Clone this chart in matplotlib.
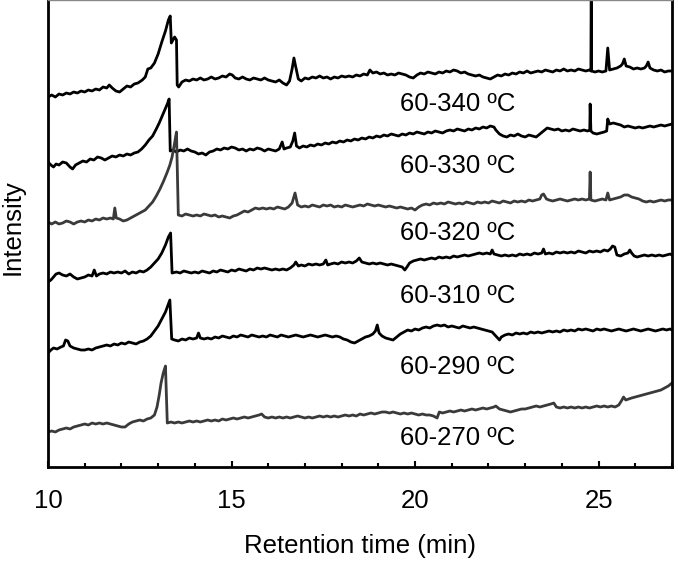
import matplotlib
matplotlib.use("Agg")
import matplotlib.pyplot as plt
from matplotlib.ticker import MultipleLocator

plt.rcParams['font.family'] = ['Liberation Sans', 'DejaVu Sans']

# Chromatogramme: (Retentionszeit in min, Intensitaet in willkuerlichen Einheiten)
# Spuren sind bereits vertikal gestapelt
trace_340 = [
    (10.0, 370), (10.1, 372), (10.2, 370), (10.3, 373), (10.4, 372), (10.5, 374), (10.6, 373),
    (10.7, 375), (10.8, 374), (10.9, 376), (11.0, 375), (11.1, 377), (11.2, 376), (11.3, 378),
    (11.4, 377), (11.5, 380), (11.6, 379), (11.67, 382), (11.75, 379), (11.85, 376), (11.95, 375),
    (12.05, 378), (12.15, 381), (12.25, 380), (12.35, 383), (12.45, 384), (12.57, 387),
    (12.65, 390), (12.72, 398), (12.8, 399), (12.9, 404), (13.0, 413), (13.1, 425), (13.2, 436),
    (13.28, 447), (13.33, 451), (13.36, 424), (13.42, 428), (13.45, 430), (13.5, 427),
    (13.52, 382), (13.56, 380), (13.65, 385), (13.75, 387), (13.85, 386), (13.95, 388),
    (14.05, 387), (14.15, 389), (14.25, 387), (14.35, 388), (14.45, 390), (14.55, 388),
    (14.65, 389), (14.75, 391), (14.85, 390), (14.95, 393), (15.02, 392), (15.1, 389),
    (15.2, 388), (15.3, 390), (15.4, 388), (15.5, 387), (15.6, 389), (15.7, 388), (15.8, 387),
    (15.9, 389), (16.0, 387), (16.1, 386), (16.2, 385), (16.3, 387), (16.4, 384), (16.5, 382),
    (16.58, 386), (16.65, 398), (16.7, 409), (16.75, 400), (16.82, 388), (16.9, 386),
    (17.0, 389), (17.1, 388), (17.2, 390), (17.3, 389), (17.4, 391), (17.5, 389), (17.6, 390),
    (17.7, 388), (17.8, 390), (17.9, 389), (18.0, 391), (18.1, 390), (18.2, 391), (18.3, 390),
    (18.4, 392), (18.5, 391), (18.6, 393), (18.7, 392), (18.77, 397), (18.85, 394),
    (18.95, 395), (19.05, 393), (19.15, 394), (19.25, 392), (19.35, 393), (19.45, 392),
    (19.55, 394), (19.65, 393), (19.75, 392), (19.85, 390), (19.95, 389), (20.05, 392),
    (20.15, 394), (20.25, 393), (20.35, 395), (20.45, 394), (20.55, 393), (20.65, 395),
    (20.75, 394), (20.85, 396), (20.95, 395), (21.05, 397), (21.15, 396), (21.25, 394),
    (21.35, 395), (21.45, 393), (21.55, 392), (21.65, 391), (21.75, 392), (21.85, 390),
    (21.95, 389), (22.05, 388), (22.15, 390), (22.25, 392), (22.35, 391), (22.45, 393),
    (22.55, 392), (22.65, 394), (22.75, 393), (22.85, 395), (22.95, 394), (23.05, 396),
    (23.15, 394), (23.25, 395), (23.35, 396), (23.45, 395), (23.55, 397), (23.65, 396),
    (23.75, 395), (23.85, 397), (23.95, 396), (24.05, 398), (24.15, 396), (24.25, 397),
    (24.35, 396), (24.45, 398), (24.55, 397), (24.65, 396), (24.75, 397), (24.79, 396),
    (24.8, 490), (24.81, 396), (24.9, 395), (25.0, 396), (25.1, 395), (25.2, 396), (25.25, 419),
    (25.3, 397), (25.4, 398), (25.5, 399), (25.6, 401), (25.65, 403), (25.7, 408), (25.75, 401),
    (25.85, 400), (25.95, 398), (26.05, 399), (26.15, 398), (26.25, 399), (26.3, 401),
    (26.35, 405), (26.4, 399), (26.5, 397), (26.6, 396), (26.7, 397), (26.8, 395), (26.9, 396),
    (27.0, 396),
]

trace_330 = [
    (10.0, 305), (10.08, 302), (10.15, 300), (10.22, 303), (10.3, 302), (10.4, 305), (10.5, 304),
    (10.6, 300), (10.67, 298), (10.75, 302), (10.85, 304), (10.95, 306), (11.05, 305),
    (11.15, 308), (11.25, 307), (11.35, 310), (11.45, 309), (11.55, 307), (11.65, 309),
    (11.75, 311), (11.85, 310), (11.95, 312), (12.05, 311), (12.15, 313), (12.25, 312),
    (12.35, 314), (12.45, 315), (12.55, 318), (12.65, 322), (12.75, 327), (12.85, 331),
    (12.95, 338), (13.03, 344), (13.1, 350), (13.18, 357), (13.25, 363), (13.3, 368),
    (13.33, 316), (13.4, 317), (13.5, 315), (13.6, 317), (13.7, 316), (13.8, 318), (13.9, 316),
    (14.0, 315), (14.1, 313), (14.2, 314), (14.3, 312), (14.4, 315), (14.5, 316), (14.6, 318),
    (14.7, 317), (14.8, 319), (14.9, 318), (15.0, 320), (15.1, 319), (15.2, 317), (15.3, 318),
    (15.4, 316), (15.5, 318), (15.6, 317), (15.7, 319), (15.8, 318), (15.9, 316), (16.0, 318),
    (16.1, 317), (16.2, 316), (16.3, 318), (16.38, 325), (16.43, 318), (16.5, 319), (16.6, 320),
    (16.67, 326), (16.72, 334), (16.77, 321), (16.85, 319), (16.95, 321), (17.05, 320),
    (17.15, 322), (17.25, 321), (17.35, 323), (17.45, 322), (17.55, 324), (17.65, 323),
    (17.75, 325), (17.85, 324), (17.95, 326), (18.05, 325), (18.15, 327), (18.25, 326),
    (18.35, 328), (18.45, 327), (18.55, 329), (18.65, 328), (18.75, 330), (18.85, 329),
    (18.95, 331), (19.05, 330), (19.15, 332), (19.25, 331), (19.35, 333), (19.45, 332),
    (19.55, 331), (19.65, 333), (19.75, 332), (19.85, 334), (19.95, 333), (20.05, 335),
    (20.15, 334), (20.25, 333), (20.35, 335), (20.45, 334), (20.55, 336), (20.65, 335),
    (20.75, 334), (20.85, 336), (20.95, 337), (21.05, 336), (21.15, 338), (21.25, 337),
    (21.35, 336), (21.45, 338), (21.55, 337), (21.65, 339), (21.75, 338), (21.85, 340),
    (21.95, 339), (22.05, 341), (22.15, 340), (22.2, 337), (22.3, 333), (22.4, 331), (22.5, 330),
    (22.6, 332), (22.7, 331), (22.8, 333), (22.9, 331), (23.0, 330), (23.1, 332), (23.2, 331),
    (23.3, 330), (23.4, 333), (23.5, 336), (23.6, 339), (23.7, 338), (23.8, 337), (23.9, 338),
    (24.0, 336), (24.1, 337), (24.2, 336), (24.3, 338), (24.4, 337), (24.5, 336), (24.6, 337),
    (24.7, 336), (24.76, 337), (24.77, 363), (24.79, 336), (24.85, 334), (24.95, 333),
    (25.05, 334), (25.15, 335), (25.22, 336), (25.25, 348), (25.3, 343), (25.4, 344),
    (25.5, 343), (25.6, 342), (25.7, 340), (25.8, 341), (25.9, 340), (26.0, 339), (26.1, 340),
    (26.2, 339), (26.3, 340), (26.4, 341), (26.5, 340), (26.6, 341), (26.7, 342), (26.8, 341),
    (26.9, 342), (27.0, 343),
]

trace_320 = [
    (10.0, 245), (10.1, 243), (10.2, 245), (10.3, 243), (10.4, 244), (10.5, 246), (10.6, 245),
    (10.7, 243), (10.8, 245), (10.9, 246), (11.0, 245), (11.1, 247), (11.2, 246), (11.3, 248),
    (11.4, 247), (11.5, 249), (11.6, 248), (11.7, 249), (11.78, 248), (11.82, 259), (11.86, 249),
    (11.95, 248), (12.05, 246), (12.15, 247), (12.25, 249), (12.35, 251), (12.45, 253),
    (12.55, 255), (12.65, 257), (12.75, 261), (12.85, 265), (12.95, 271), (13.05, 278),
    (13.15, 286), (13.25, 295), (13.32, 302), (13.38, 310), (13.44, 322), (13.5, 335),
    (13.55, 252), (13.65, 251), (13.75, 253), (13.85, 252), (13.95, 251), (14.05, 252),
    (14.15, 251), (14.25, 253), (14.35, 252), (14.45, 251), (14.55, 252), (14.65, 250),
    (14.75, 251), (14.85, 250), (14.95, 249), (15.05, 251), (15.15, 252), (15.25, 254),
    (15.35, 256), (15.45, 255), (15.55, 257), (15.65, 259), (15.75, 258), (15.85, 259),
    (15.95, 258), (16.05, 259), (16.15, 258), (16.25, 260), (16.35, 259), (16.45, 258),
    (16.55, 260), (16.65, 264), (16.73, 274), (16.8, 262), (16.9, 260), (17.0, 261), (17.1, 260),
    (17.2, 262), (17.3, 261), (17.4, 260), (17.5, 262), (17.6, 261), (17.7, 262), (17.8, 260),
    (17.9, 261), (18.0, 260), (18.1, 262), (18.2, 261), (18.3, 260), (18.4, 261), (18.5, 262),
    (18.6, 261), (18.7, 263), (18.8, 262), (18.9, 261), (19.0, 262), (19.1, 261), (19.2, 260),
    (19.3, 261), (19.4, 260), (19.5, 259), (19.6, 260), (19.7, 259), (19.8, 258), (19.9, 259),
    (20.0, 257), (20.1, 260), (20.2, 262), (20.3, 263), (20.4, 262), (20.5, 264), (20.6, 263),
    (20.7, 264), (20.8, 263), (20.9, 265), (21.0, 264), (21.1, 263), (21.2, 264), (21.3, 263),
    (21.4, 265), (21.5, 264), (21.6, 263), (21.7, 265), (21.8, 264), (21.9, 265), (22.0, 264),
    (22.1, 266), (22.2, 265), (22.3, 264), (22.4, 266), (22.5, 265), (22.6, 264), (22.7, 266),
    (22.8, 265), (22.9, 266), (23.0, 265), (23.1, 267), (23.2, 266), (23.3, 267), (23.4, 268),
    (23.45, 272), (23.5, 273), (23.58, 268), (23.65, 267), (23.75, 266), (23.85, 267),
    (23.95, 268), (24.05, 267), (24.15, 266), (24.25, 267), (24.35, 268), (24.45, 267),
    (24.55, 268), (24.65, 267), (24.75, 268), (24.77, 295), (24.79, 267), (24.9, 266),
    (25.0, 267), (25.1, 268), (25.2, 267), (25.25, 274), (25.3, 267), (25.4, 268), (25.5, 269),
    (25.6, 270), (25.7, 272), (25.8, 272), (25.9, 270), (26.0, 269), (26.1, 268), (26.2, 266),
    (26.3, 265), (26.4, 266), (26.5, 265), (26.6, 266), (26.7, 267), (26.8, 266), (26.9, 267),
    (27.0, 267),
]

trace_310 = [
    (10.0, 185), (10.08, 187), (10.15, 190), (10.22, 193), (10.3, 194), (10.4, 192), (10.5, 191),
    (10.6, 193), (10.7, 190), (10.8, 188), (10.9, 189), (11.0, 190), (11.1, 192), (11.2, 191),
    (11.26, 197), (11.32, 191), (11.4, 193), (11.5, 194), (11.6, 193), (11.7, 195), (11.8, 194),
    (11.9, 195), (12.0, 194), (12.1, 196), (12.2, 193), (12.3, 195), (12.4, 194), (12.5, 196),
    (12.6, 195), (12.7, 197), (12.8, 200), (12.9, 204), (13.0, 208), (13.1, 214), (13.2, 222),
    (13.28, 230), (13.34, 234), (13.38, 194), (13.5, 195), (13.6, 194), (13.7, 196), (13.8, 195),
    (13.9, 194), (14.0, 195), (14.1, 194), (14.2, 196), (14.3, 195), (14.4, 194), (14.5, 196),
    (14.6, 195), (14.7, 197), (14.8, 196), (14.9, 195), (15.0, 197), (15.1, 196), (15.2, 198),
    (15.3, 197), (15.4, 196), (15.5, 198), (15.6, 197), (15.7, 199), (15.8, 198), (15.9, 199),
    (16.0, 198), (16.1, 197), (16.2, 198), (16.3, 197), (16.4, 198), (16.5, 197), (16.6, 199),
    (16.7, 202), (16.75, 205), (16.82, 201), (16.9, 202), (17.0, 201), (17.1, 203), (17.2, 202),
    (17.3, 203), (17.4, 202), (17.5, 203), (17.57, 207), (17.62, 202), (17.7, 203), (17.8, 204),
    (17.9, 203), (18.0, 205), (18.1, 204), (18.2, 205), (18.3, 204), (18.4, 206), (18.48, 209),
    (18.55, 205), (18.65, 204), (18.75, 203), (18.85, 204), (18.95, 203), (19.05, 204),
    (19.15, 203), (19.25, 202), (19.35, 203), (19.45, 202), (19.55, 201), (19.65, 200),
    (19.72, 197), (19.78, 200), (19.85, 204), (19.95, 206), (20.05, 207), (20.15, 208),
    (20.25, 207), (20.35, 208), (20.45, 209), (20.55, 208), (20.65, 210), (20.75, 209),
    (20.85, 210), (20.95, 209), (21.05, 211), (21.15, 210), (21.25, 211), (21.35, 212),
    (21.45, 211), (21.55, 212), (21.65, 213), (21.75, 214), (21.85, 213), (21.95, 214),
    (22.05, 213), (22.1, 217), (22.15, 213), (22.25, 212), (22.35, 211), (22.45, 212),
    (22.55, 211), (22.65, 212), (22.75, 211), (22.85, 213), (22.95, 212), (23.05, 213),
    (23.15, 212), (23.25, 214), (23.35, 213), (23.45, 214), (23.5, 218), (23.55, 213),
    (23.65, 214), (23.75, 213), (23.85, 215), (23.95, 214), (24.05, 215), (24.15, 214),
    (24.25, 215), (24.35, 214), (24.45, 216), (24.55, 215), (24.65, 214), (24.75, 216),
    (24.85, 215), (24.95, 216), (25.05, 215), (25.15, 217), (25.25, 216), (25.32, 218),
    (25.38, 221), (25.44, 220), (25.5, 212), (25.6, 211), (25.7, 213), (25.8, 214), (25.85, 217),
    (25.9, 214), (25.97, 211), (26.05, 210), (26.15, 211), (26.25, 212), (26.35, 211),
    (26.45, 212), (26.55, 211), (26.65, 212), (26.75, 211), (26.85, 212), (26.95, 213),
    (27.0, 212),
]

trace_290 = [
    (10.0, 114), (10.08, 117), (10.15, 119), (10.25, 118), (10.35, 120), (10.42, 121),
    (10.48, 127), (10.54, 126), (10.6, 121), (10.7, 119), (10.8, 118), (10.9, 117), (11.0, 117),
    (11.1, 118), (11.2, 117), (11.3, 119), (11.4, 120), (11.5, 121), (11.6, 122), (11.7, 121),
    (11.8, 123), (11.9, 122), (12.0, 124), (12.1, 123), (12.2, 125), (12.3, 124), (12.4, 123),
    (12.5, 125), (12.6, 126), (12.7, 128), (12.8, 131), (12.9, 136), (13.0, 141), (13.1, 148),
    (13.2, 155), (13.27, 162), (13.32, 167), (13.37, 128), (13.45, 127), (13.55, 126),
    (13.65, 128), (13.75, 127), (13.85, 129), (13.95, 128), (14.05, 129), (14.1, 134),
    (14.15, 129), (14.25, 128), (14.35, 129), (14.45, 128), (14.55, 130), (14.65, 129),
    (14.75, 131), (14.85, 130), (14.95, 129), (15.05, 131), (15.15, 130), (15.25, 132),
    (15.35, 131), (15.45, 130), (15.55, 132), (15.65, 131), (15.75, 130), (15.85, 131),
    (15.95, 130), (16.05, 132), (16.15, 131), (16.25, 130), (16.35, 132), (16.45, 131),
    (16.55, 130), (16.65, 131), (16.75, 132), (16.85, 131), (16.95, 130), (17.05, 131),
    (17.15, 132), (17.25, 131), (17.35, 130), (17.45, 131), (17.55, 132), (17.65, 131),
    (17.75, 130), (17.85, 131), (17.95, 130), (18.05, 128), (18.15, 127), (18.25, 125),
    (18.35, 124), (18.45, 126), (18.55, 128), (18.65, 130), (18.75, 131), (18.85, 133),
    (18.92, 136), (18.97, 142), (19.02, 134), (19.1, 131), (19.2, 129), (19.3, 128), (19.4, 127),
    (19.5, 130), (19.6, 133), (19.7, 135), (19.8, 137), (19.9, 136), (20.0, 138), (20.1, 137),
    (20.2, 139), (20.3, 140), (20.4, 139), (20.5, 141), (20.6, 142), (20.7, 141), (20.8, 142),
    (20.9, 140), (21.0, 141), (21.1, 140), (21.2, 139), (21.3, 141), (21.4, 140), (21.5, 139),
    (21.6, 140), (21.7, 139), (21.8, 138), (21.9, 137), (22.0, 136), (22.1, 135), (22.2, 131),
    (22.3, 127), (22.35, 130), (22.45, 132), (22.55, 133), (22.65, 132), (22.75, 134),
    (22.85, 133), (22.95, 134), (23.05, 133), (23.15, 135), (23.25, 134), (23.35, 135),
    (23.45, 134), (23.55, 135), (23.65, 136), (23.75, 135), (23.85, 136), (23.95, 135),
    (24.05, 137), (24.15, 136), (24.25, 137), (24.35, 136), (24.45, 138), (24.55, 137),
    (24.65, 138), (24.75, 137), (24.85, 136), (24.95, 138), (25.05, 137), (25.15, 138),
    (25.25, 137), (25.35, 136), (25.45, 137), (25.55, 138), (25.65, 137), (25.75, 136),
    (25.85, 137), (25.95, 138), (26.05, 137), (26.15, 136), (26.25, 137), (26.35, 138),
    (26.45, 137), (26.55, 136), (26.65, 137), (26.75, 138), (26.85, 137), (26.95, 138),
    (27.0, 137),
]

trace_270 = [
    (10.0, 35), (10.1, 36), (10.2, 35), (10.3, 37), (10.4, 38), (10.5, 39), (10.6, 38),
    (10.7, 40), (10.8, 41), (10.9, 42), (11.0, 43), (11.1, 42), (11.2, 44), (11.3, 43),
    (11.4, 44), (11.5, 43), (11.6, 44), (11.7, 43), (11.8, 42), (11.9, 41), (12.0, 40),
    (12.1, 40), (12.2, 43), (12.3, 45), (12.4, 46), (12.5, 47), (12.6, 46), (12.7, 48),
    (12.8, 49), (12.9, 52), (12.97, 60), (13.03, 72), (13.08, 84), (13.14, 94), (13.2, 101),
    (13.25, 44), (13.35, 45), (13.45, 44), (13.55, 45), (13.65, 44), (13.75, 45), (13.85, 46),
    (13.95, 45), (14.05, 46), (14.15, 45), (14.25, 46), (14.35, 47), (14.45, 46), (14.55, 47),
    (14.65, 46), (14.75, 48), (14.85, 47), (14.95, 48), (15.05, 49), (15.15, 48), (15.25, 49),
    (15.35, 50), (15.45, 49), (15.55, 50), (15.65, 51), (15.75, 52), (15.82, 53), (15.9, 50),
    (16.0, 49), (16.1, 50), (16.2, 49), (16.3, 50), (16.4, 49), (16.5, 50), (16.6, 49),
    (16.7, 50), (16.8, 51), (16.9, 50), (17.0, 49), (17.1, 50), (17.2, 49), (17.3, 50),
    (17.4, 51), (17.5, 50), (17.6, 51), (17.7, 50), (17.8, 51), (17.9, 50), (18.0, 51),
    (18.1, 52), (18.2, 51), (18.3, 52), (18.4, 51), (18.5, 53), (18.6, 52), (18.7, 53),
    (18.8, 54), (18.9, 53), (19.0, 54), (19.1, 55), (19.2, 55), (19.3, 54), (19.4, 55),
    (19.5, 54), (19.6, 53), (19.7, 54), (19.8, 53), (19.9, 54), (20.0, 53), (20.1, 52),
    (20.2, 53), (20.3, 52), (20.4, 52), (20.5, 51), (20.6, 49), (20.66, 55), (20.75, 54),
    (20.85, 55), (20.95, 56), (21.05, 55), (21.15, 56), (21.25, 57), (21.35, 56), (21.45, 57),
    (21.55, 58), (21.65, 57), (21.75, 58), (21.85, 59), (21.95, 58), (22.05, 59), (22.15, 60),
    (22.2, 61), (22.3, 58), (22.4, 57), (22.5, 56), (22.6, 55), (22.7, 56), (22.8, 57),
    (22.9, 58), (23.0, 58), (23.1, 59), (23.2, 60), (23.3, 61), (23.4, 60), (23.5, 61),
    (23.6, 62), (23.7, 63), (23.78, 64), (23.85, 60), (23.95, 59), (24.05, 60), (24.15, 59),
    (24.25, 60), (24.35, 59), (24.45, 60), (24.55, 59), (24.65, 60), (24.75, 59), (24.85, 60),
    (24.95, 61), (25.05, 60), (25.15, 61), (25.25, 60), (25.35, 61), (25.45, 60), (25.55, 62),
    (25.62, 66), (25.68, 70), (25.74, 67), (25.82, 68), (25.9, 69), (26.0, 70), (26.1, 71),
    (26.2, 72), (26.3, 73), (26.4, 74), (26.5, 75), (26.6, 76), (26.7, 77), (26.8, 79),
    (26.9, 81), (27.0, 84),
]

labels = ["60-340 ºC", "60-330 ºC", "60-320 ºC", "60-310 ºC", "60-290 ºC", "60-270 ºC"]
label_y = [356, 294, 227, 164, 93, 22]
colors = ["#000000", "#000000", "#3a3a3a", "#000000", "#000000", "#3a3a3a"]
traces = [trace_340, trace_330, trace_320, trace_310, trace_290, trace_270]

fig = plt.figure(figsize=(6.78, 5.62), dpi=100)
ax = fig.add_axes([48 / 678, 95 / 562, 624 / 678, 467 / 562])

for tr, col, lab, ylab in zip(traces, colors, labels, label_y):
    t, y = zip(*tr)
    ax.plot(t, y, color=col, lw=2.0, solid_joinstyle='round')
    ax.text(19.6, ylab, lab, fontsize=18.5, va='baseline', ha='left')

ax.set_xlim(10, 27)
ax.set_ylim(0, 467)
ax.set_yticks([])
ax.xaxis.set_major_locator(MultipleLocator(5))
ax.xaxis.set_minor_locator(MultipleLocator(1))
ax.tick_params(axis='x', which='major', direction='in', length=4.5, width=1.5,
               labelsize=18.5, pad=16)
ax.tick_params(axis='x', which='minor', direction='in', length=3, width=1.5)
for s in ax.spines.values():
    s.set_linewidth(2.0)
ax.spines['top'].set_color('#888888')
ax.spines['top'].set_linewidth(1.0)

fig.text(360.5 / 678, 1 - 553 / 562, "Retention time (min)", fontsize=18.5,
         ha='center', va='baseline')
fig.text(1 / 678, 1 - 227.5 / 562, "Intensity", fontsize=18.5, rotation=90,
         ha='left', va='center')

fig.savefig("out.png", dpi=100)
